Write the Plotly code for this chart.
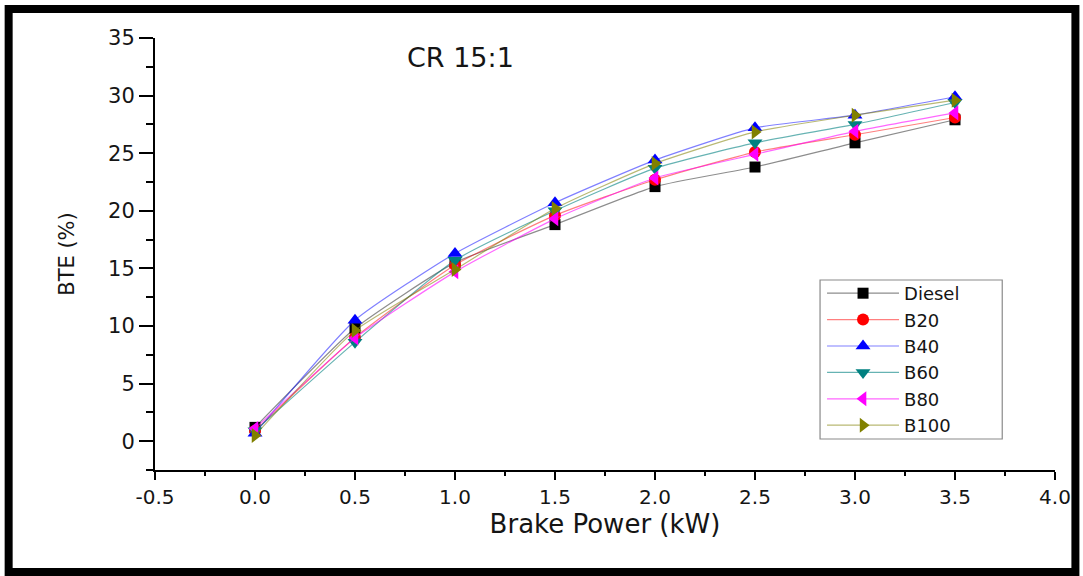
import plotly.graph_objects as go

# ---- data ----
power = [0.0, 0.5, 1.0, 1.5, 2.0, 2.5, 3.0, 3.5]
diesel = [1.2, 9.8, 15.5, 18.8, 22.1, 23.8, 25.9, 27.9]
b20 = [0.9, 9.0, 15.3, 19.6, 22.7, 25.1, 26.6, 28.1]
b40 = [0.7, 10.5, 16.3, 20.7, 24.4, 27.2, 28.3, 29.9]
b60 = [0.9, 8.6, 15.7, 20.0, 23.7, 25.9, 27.5, 29.4]
b80 = [1.1, 8.95, 14.7, 19.3, 22.85, 24.9, 26.9, 28.5]
b100 = [0.5, 9.6, 14.9, 20.2, 24.1, 26.85, 28.3, 29.6]

series_names = ["Diesel", "B20", "B40", "B60", "B80", "B100"]
series_values = [diesel, b20, b40, b60, b80, b100]

x_tick_vals = [-0.5, 0.0, 0.5, 1.0, 1.5, 2.0, 2.5, 3.0, 3.5, 4.0]
x_tick_text = ["-0.5", "0.0", "0.5", "1.0", "1.5", "2.0", "2.5", "3.0", "3.5", "4.0"]

x_title = "Brake Power (kW)"
y_title = "BTE (%)"
note_text = "CR 15:1"

# ---- styles ----
marker_colors = ["#000000", "#ff0000", "#0000ff", "#008080", "#ff00ff", "#808000"]
line_colors = ["rgba(0,0,0,0.45)", "rgba(255,0,0,0.5)", "rgba(0,0,255,0.5)",
               "rgba(0,128,128,0.6)", "rgba(255,0,255,0.6)", "rgba(128,128,0,0.55)"]
symbols = ["square", "circle", "triangle-up", "triangle-down", "triangle-left", "triangle-right"]
sizes = [11, 12, 13, 13, 13, 13]

W, H = 1083, 576
ML, MR, MT, MB = 155, 24, 38, 106
PW, PH = W - ML - MR, H - MT - MB


def px_x(p):
    return (p - ML) / PW


def px_y(p):
    return (H - MB - p) / PH


fig = go.Figure()
for name, vals, mc, lc, sym, sz in zip(series_names, series_values, marker_colors,
                                        line_colors, symbols, sizes):
    fig.add_trace(go.Scatter(
        x=power, y=vals, name=name, mode="lines+markers",
        line=dict(color=lc, width=1.2, shape="spline", smoothing=0.5),
        marker=dict(symbol=sym, size=sz, color=mc, line=dict(width=0)),
        cliponaxis=False,
    ))

FONT = "DejaVu Sans"
TXT = "#151515"

fig.update_layout(
    width=W, height=H,
    margin=dict(l=ML, r=MR, t=MT, b=MB),
    paper_bgcolor="white", plot_bgcolor="white",
    font=dict(family=FONT, color=TXT, size=19),
    showlegend=True,
    legend=dict(
        x=px_x(825), y=px_y(275), xanchor="left", yanchor="top",
        bgcolor="rgba(0,0,0,0)", borderwidth=0,
        font=dict(family=FONT, size=18, color=TXT),
        itemwidth=72, traceorder="normal",
    ),
    xaxis=dict(
        range=[-0.5, 4.0], tickmode="array", tickvals=x_tick_vals, ticktext=x_tick_text,
        showgrid=False, zeroline=False,
        showline=True, linecolor="black", linewidth=2,
        ticks="outside", ticklen=8, tickwidth=2, tickcolor="black",
        minor=dict(dtick=0.25, tick0=0, ticks="outside", ticklen=4, tickwidth=2, tickcolor="black"),
        tickfont=dict(family=FONT, size=20, color=TXT),
        title=dict(text=x_title, font=dict(family=FONT, size=26, color=TXT), standoff=6),
    ),
    yaxis=dict(
        range=[-2.5, 35], dtick=5, tick0=0,
        showgrid=False, zeroline=False,
        showline=True, linecolor="black", linewidth=2,
        ticks="outside", ticklen=14, tickwidth=2, tickcolor="black",
        minor=dict(dtick=2.5, ticks="outside", ticklen=7, tickwidth=2, tickcolor="black"),
        tickfont=dict(family=FONT, size=21, color=TXT),
        title=dict(text=y_title, font=dict(family=FONT, size=21, color=TXT), standoff=28),
    ),
    annotations=[dict(
        text=note_text, x=px_x(462), y=px_y(58), xref="paper", yref="paper",
        xanchor="center", yanchor="middle", showarrow=False,
        font=dict(family=FONT, size=27, color=TXT),
    )],
    shapes=[
        # legend box
        dict(type="rect", xref="paper", yref="paper",
             x0=px_x(823), x1=px_x(1006), y0=px_y(439), y1=px_y(280),
             line=dict(color="#8a8a8a", width=1.2), fillcolor="white", layer="above"),
        # outer black frame
        dict(type="rect", xref="paper", yref="paper",
             x0=px_x(8), x1=px_x(1079.5), y0=px_y(572), y1=px_y(9),
             line=dict(color="black", width=8), fillcolor="rgba(0,0,0,0)", layer="above"),
    ],
)

fig.write_html("out.html")
